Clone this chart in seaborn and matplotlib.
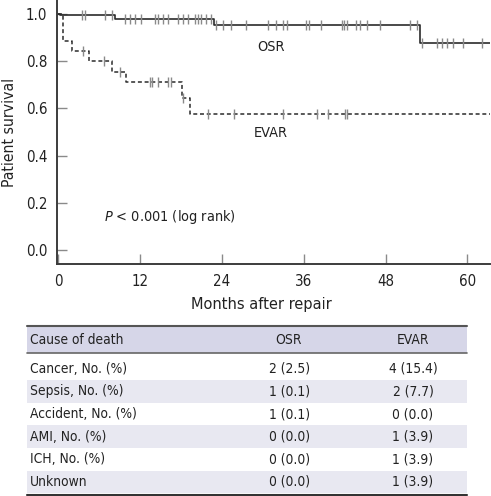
import numpy as np
import pandas as pd
import matplotlib
matplotlib.use("Agg")
import matplotlib.pyplot as plt
import seaborn as sns
from matplotlib import font_manager

# Kaplan-Meier steps
osr_time = [0, 0.3, 8.3, 22.8, 53.1]
osr_surv = [1.0, 0.994, 0.976, 0.952, 0.877]
osr_cens = [3.5, 4.0, 6.9, 7.9, 9.8, 10.5, 11.3, 12.2, 14.2, 14.7, 15.4, 16.1,
            17.6, 18.3, 19.0, 20.0, 20.5, 21.0, 21.7, 22.4, 23.2, 24.2, 25.4,
            27.5, 30.7, 31.9, 32.9, 33.6, 36.3, 36.8, 38.5, 41.6, 41.9, 42.4,
            43.6, 44.3, 45.3, 47.2, 51.6, 52.6, 53.3, 55.5, 56.2, 57.0, 57.9,
            59.3, 62.1]

evar_time = [0, 0.7, 2.1, 4.5, 7.9, 9.9, 18.1, 19.4]
evar_surv = [1.0, 0.882, 0.84, 0.80, 0.755, 0.71, 0.643, 0.575]
evar_cens = [3.7, 6.7, 9.1, 13.5, 13.7, 14.7, 16.1, 16.6, 18.3, 22.0, 25.8,
             32.9, 37.9, 39.5, 42.1, 42.4]
t_end = 63.3

# table
causes = ["Cancer, No. (%)", "Sepsis, No. (%)", "Accident, No. (%)",
          "AMI, No. (%)", "ICH, No. (%)", "Unknown"]
osr_deaths = ["2 (2.5)", "1 (0.1)", "1 (0.1)", "0 (0.0)", "0 (0.0)", "0 (0.0)"]
evar_deaths = ["4 (15.4)", "2 (7.7)", "0 (0.0)", "1 (3.9)", "1 (3.9)", "1 (3.9)"]

sns.set_theme(style="ticks")

# try to find a narrow/condensed face, the original uses a condensed sans
fam, stretch, sc = "Liberation Sans", "normal", 0.85
for f in font_manager.fontManager.ttflist:
    st = str(f.stretch)
    if f.style == "normal" and f.weight in (400, "normal", "regular") and \
            ("Narrow" in f.name or "Condensed" in f.name or st in ("condensed", "semi-condensed")):
        fam, stretch, sc = f.name, st, 0.9
        break
plt.rcParams["font.family"] = [fam, "DejaVu Sans"]
plt.rcParams["font.stretch"] = stretch
txt = "#222222"


def km_frame(t, s):
    return pd.DataFrame({"time": list(t) + [t_end], "surv": list(s) + [s[-1]]})


def cens_frame(t, s, c):
    idx = np.searchsorted(t, c, side="right") - 1
    return pd.DataFrame({"time": c, "surv": np.array(s)[idx]})


fig = plt.figure(figsize=(4.91, 4.96), dpi=100)
ax = fig.add_axes([57 / 491, (496 - 264) / 496, (490 - 57) / 491, 264 / 496])

sns.lineplot(data=km_frame(osr_time, osr_surv), x="time", y="surv",
             drawstyle="steps-post", estimator=None, sort=False,
             color="#2b2b2b", lw=1.2, ax=ax)
sns.lineplot(data=km_frame(evar_time, evar_surv), x="time", y="surv",
             drawstyle="steps-post", estimator=None, sort=False,
             color="#2b2b2b", lw=1.1, linestyle=(0, (2.6, 1.8)), ax=ax)
for t, s, c in [(osr_time, osr_surv, osr_cens), (evar_time, evar_surv, evar_cens)]:
    sns.scatterplot(data=cens_frame(t, s, c), x="time", y="surv", marker="|",
                    s=55, color="#8a8a8a", linewidth=1.0, ax=ax, zorder=3)

ax.text(29.2, 0.86, "OSR", fontsize=11.5 * sc, color=txt, va="center")
ax.text(28.7, 0.495, "EVAR", fontsize=11.5 * sc, color=txt, va="center")
ax.text(6.7, 0.141, "$P$ < 0.001 (log rank)", fontsize=11.5 * sc, color=txt, va="center")

ax.set_xlim(-0.15, t_end)
ax.set_ylim(-0.057, 1.057)
ax.set_xticks([0, 12, 24, 36, 48, 60])
ax.set_yticks([0.0, 0.2, 0.4, 0.6, 0.8, 1.0])
ax.set_yticklabels(["0.0", "0.2", "0.4", "0.6", "0.8", "1.0"])
ax.tick_params(direction="in", length=7, width=1, color="#8a8a8a",
               labelsize=12 * sc, labelcolor=txt, pad=7)
ax.set_xlabel("Months after repair", fontsize=13 * sc, color=txt)
ax.set_ylabel("Patient survival", fontsize=12.5 * sc, color=txt)
ax.xaxis.set_label_coords(0.473, -0.125)
ax.yaxis.set_label_coords(-0.093, 0.5)
for side in ["top", "right"]:
    ax.spines[side].set_visible(False)
for side in ["left", "bottom"]:
    ax.spines[side].set_color("#3c3c3c")
    ax.spines[side].set_linewidth(1.4)

# table drawn in pixel coordinates
tx = fig.add_axes([0, 0, 1, 1], zorder=-1)
tx.set_xlim(0, 491)
tx.set_ylim(496, 0)
tx.axis("off")
x0, x1 = 26.7, 467
fs = 11 * sc
tx.fill_between([x0, x1], 325.7, 353.3, color="#d6d6e8", lw=0)
tx.text(30, 339.5, "Cause of death", fontsize=fs, color=txt, va="center")
tx.text(288, 339.5, "OSR", fontsize=fs, color=txt, va="center", ha="center")
tx.text(413, 339.5, "EVAR", fontsize=fs, color=txt, va="center", ha="center")
row_h = 22.6
for i, (c, o, e) in enumerate(zip(causes, osr_deaths, evar_deaths)):
    top = 357.5 + i * row_h
    if i % 2 == 1:
        tx.fill_between([x0, x1], top, top + row_h, color="#e8e8f1", lw=0)
    yc = top + row_h / 2
    tx.text(30, yc, c, fontsize=fs, color=txt, va="center")
    tx.text(290, yc, o, fontsize=fs, color=txt, va="center", ha="center")
    tx.text(413, yc, e, fontsize=fs, color=txt, va="center", ha="center")
tx.plot([x0, x1], [325.7, 325.7], color="#555555", lw=1.5)
tx.plot([x0, x1], [353.3, 353.3], color="#666666", lw=1.2)
tx.plot([x0, x1], [494.5, 494.5], color="#333333", lw=1.5)

fig.savefig("out.png", dpi=100)
